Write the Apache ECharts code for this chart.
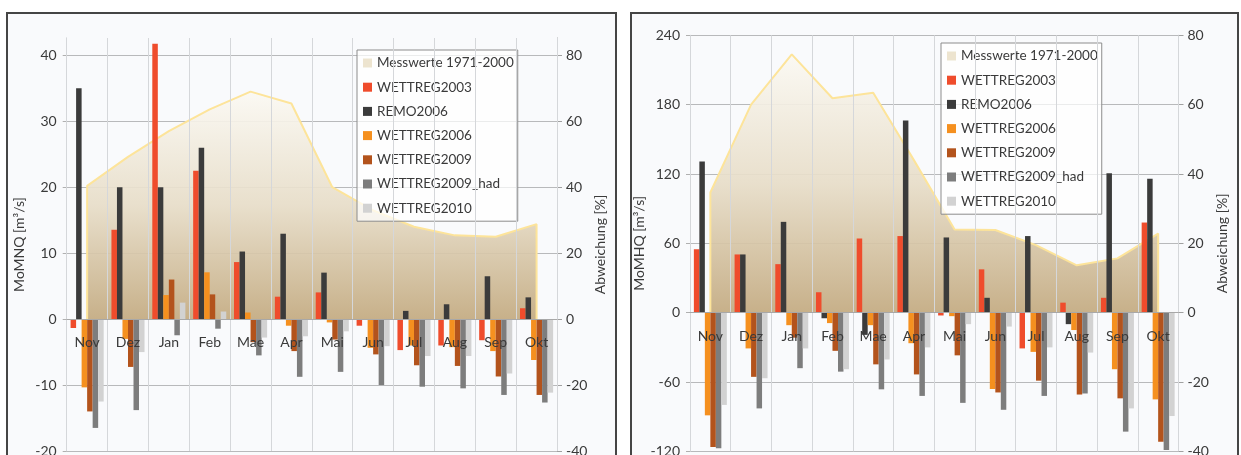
<!DOCTYPE html>
<html>
<head>
<meta charset="utf-8">
<script src="https://cdn.jsdelivr.net/npm/echarts@6/dist/echarts.min.js"></script>
<style>
  html, body { margin: 0; padding: 0; background: #ffffff; overflow: hidden; width: 1241px; height: 455px; }
  .frame { position: absolute; top: 12px; height: 520px; border: 2px solid #454545; background: #f9fafc; box-sizing: border-box; }
  #chart { position: absolute; left: 0; top: 0; width: 1241px; height: 455px; }
</style>
</head>
<body>
<div class="frame" style="left:6px;width:611px"></div>
<div class="frame" style="left:630px;width:609px"></div>
<div id="chart"></div>
<script>
// Monthly categories (hydrological year Nov..Okt)
const months = ['Nov', 'Dez', 'Jan', 'Feb', 'Mae', 'Apr', 'Mai', 'Jun', 'Jul', 'Aug', 'Sep', 'Okt'];

const seriesNames = ['Messwerte 1971-2000', 'WETTREG2003', 'REMO2006', 'WETTREG2006', 'WETTREG2009', 'WETTREG2009_had', 'WETTREG2010'];

// Panel 1: MoMNQ, observed mean [m³/s] and deviations [%]
const mnqMess     = [20.2, 24.6, 28.5, 31.8, 34.5, 32.7, 20.0, 16.5, 14.0, 12.7, 12.5, 14.4];
const mnqW2003    = [-2.7, 27.1, 83.5, 45.0, 17.3, 6.8, 8.1, -2.0, -9.4, -8.0, -6.4, 3.3];
const mnqRemo     = [70.0, 40.0, 40.0, 52.0, 20.5, 25.9, 14.1, 0.0, 2.5, 4.5, 13.0, 6.6];
const mnqW2006    = [-20.7, -6.0, 7.3, 14.2, 2.0, -2.0, -1.0, -8.7, -8.0, -8.5, -9.7, -12.4];
const mnqW2009    = [-28.0, -14.5, 12.0, 7.5, -7.0, -9.7, -6.2, -10.7, -14.0, -14.2, -17.4, -23.0];
const mnqW2009had = [-33.0, -27.6, -4.9, -2.9, -11.0, -17.5, -16.0, -20.0, -20.5, -21.0, -23.0, -25.3];
const mnqW2010    = [-25.0, -10.0, 5.0, 2.3, -5.6, -5.2, -3.7, -8.2, -11.2, -11.2, -16.5, -22.3];

// Panel 2: MoMHQ, observed mean [m³/s] and deviations [%]
const mhqMess     = [104, 180, 223.5, 185.5, 190.3, 132, 72, 71.5, 58.5, 41, 47, 68.5];
const mhqW2003    = [18.3, 16.8, 14.0, 5.9, 21.4, 22.1, -0.8, 12.5, -10.3, 2.9, 4.3, 26.0];
const mhqRemo     = [43.6, 16.8, 26.2, -1.6, -6.4, 55.4, 21.7, 4.3, 22.1, -3.3, 40.2, 38.6];
const mhqW2006    = [-29.6, -10.3, -3.6, -3.0, -3.6, -8.8, -1.0, -22.0, -11.3, -5.0, -16.3, -25.0];
const mhqW2009    = [-38.7, -18.5, -7.2, -11.0, -14.9, -17.8, -12.3, -23.0, -19.6, -23.6, -24.7, -37.2];
const mhqW2009had = [-39.1, -27.6, -16.0, -17.0, -22.1, -24.0, -26.0, -28.0, -24.0, -23.3, -34.3, -39.6];
const mhqW2010    = [-26.6, -18.9, -10.3, -16.3, -13.5, -10.0, -3.3, -4.0, -10.0, -11.5, -27.6, -29.8];

const barColors = ['#ef4c2c', '#3b3b3b', '#f5901f', '#b3531c', '#7d7d7d', '#d2d2d2'];
const areaIconColor = '#ede4cf';
const lineColor = '#fde49a';
const FONT = 'Lato';
const TXT = '#3a3a3a';

// Area outline including the vertical edges at the first and last month
function areaData(vals) {
  const pts = vals.map((v, i) => [i, v]);
  return [[0, 0]].concat(pts, [[vals.length - 1, 0]]);
}

function panel(gi, g, axes, mess, bars, legendPos) {
  // the month axis sits on the zero line of the value axes
  const zeroOffset = -g.height * (0 - axes.lMin) / (axes.lMax - axes.lMin);
  const xAxis = {
    type: 'category', gridIndex: gi, data: months, boundaryGap: true,
    position: 'bottom', offset: zeroOffset, z: 6,
    axisLine: { show: true, onZero: false, lineStyle: { color: '#a8a8a8', width: 1 } },
    axisTick: { show: false },
    axisLabel: { margin: g.labelMargin, color: TXT, fontFamily: FONT, fontSize: 14 },
    splitLine: { show: true, interval: 0, lineStyle: { color: '#d5d7da', width: 1 } }
  };
  const yLeft = {
    type: 'value', gridIndex: gi, position: 'left',
    min: axes.lMin, max: axes.lMax, interval: axes.lInt,
    name: axes.lName, nameLocation: 'middle', nameGap: axes.lGap, nameRotate: 90,
    nameTextStyle: { color: TXT, fontFamily: FONT, fontSize: 14 },
    axisLine: { show: true, lineStyle: { color: '#c4c6c9' } },
    axisTick: { show: true, length: 4, lineStyle: { color: '#b0b0b0' } },
    axisLabel: { margin: 10, color: TXT, fontFamily: FONT, fontSize: 14, showMaxLabel: axes.showMax },
    splitLine: { show: true, showMaxLine: axes.showMax, lineStyle: { color: '#b8b9bb', width: 1 } }
  };
  const yRight = {
    type: 'value', gridIndex: gi, position: 'right',
    min: axes.rMin, max: axes.rMax, interval: axes.rInt,
    name: 'Abweichung [%]', nameLocation: 'middle', nameGap: axes.rGap, nameRotate: 90,
    nameTextStyle: { color: TXT, fontFamily: FONT, fontSize: 14 },
    axisLine: { show: true, lineStyle: { color: '#a0a0a0' } },
    axisTick: { show: true, length: 5, lineStyle: { color: '#a0a0a0' } },
    axisLabel: { margin: 9, color: TXT, fontFamily: FONT, fontSize: 14, showMaxLabel: axes.showMax },
    splitLine: { show: false }
  };
  const series = [{
    name: seriesNames[0], type: 'line', xAxisIndex: gi, yAxisIndex: gi * 2,
    data: areaData(mess), symbol: 'none', z: 1,
    lineStyle: { color: lineColor, width: 2 },
    itemStyle: { color: areaIconColor },
    areaStyle: {
      opacity: 0.92,
      color: { type: 'linear', x: 0, y: 0, x2: 0, y2: 1, colorStops: [
        { offset: 0, color: '#fbf9f3' },
        { offset: 0.5, color: '#e7ddc8' },
        { offset: 1, color: '#c3aa80' }
      ] }
    }
  }];
  bars.forEach((vals, k) => {
    series.push({
      name: seriesNames[k + 1], type: 'bar', xAxisIndex: gi, yAxisIndex: gi * 2 + 1,
      data: vals, barGap: '0%', barCategoryGap: '19%', z: 3,
      itemStyle: { color: barColors[k] }
    });
  });
  const legend = {
    orient: 'vertical', left: legendPos.left, top: legendPos.top,
    padding: [5, 4, 5, 6], itemGap: 8.2, itemWidth: 9, itemHeight: 9, icon: 'rect',
    selectedMode: false,
    borderColor: '#8c8c8c', borderWidth: 1, backgroundColor: 'rgba(255,255,255,0.72)',
    textStyle: { color: TXT, fontFamily: FONT, fontSize: 13.5, lineHeight: 16 },
    data: seriesNames.map((n, i) => i === 0 ? { name: n, itemStyle: { color: areaIconColor } } : n)
  };
  return { grid: { left: g.left, top: g.top, width: g.width, height: g.height,
                   containLabel: false, outerBoundsMode: 'none' },
           xAxis, yAxes: [yLeft, yRight], series, legend };
}

const p1 = panel(0,
  { left: 66.7, top: 38, width: 490.3, height: 413, labelMargin: 16 },
  { lMin: -20, lMax: 42.63, lInt: 10, rMin: -40, rMax: 85.26, rInt: 20, lName: 'MoMNQ [m³/s]', lGap: 40, rGap: 36, showMax: false },
  mnqMess, [mnqW2003, mnqRemo, mnqW2006, mnqW2009, mnqW2009had, mnqW2010],
  { left: 357, top: 50 });

const p2 = panel(1,
  { left: 690, top: 35.3, width: 488.5, height: 416.1, labelMargin: 17 },
  { lMin: -120, lMax: 240, lInt: 60, rMin: -40, rMax: 80, rInt: 20, lName: 'MoMHQ [m³/s]', lGap: 42, rGap: 37, showMax: true },
  mhqMess, [mhqW2003, mhqRemo, mhqW2006, mhqW2009, mhqW2009had, mhqW2010],
  { left: 941, top: 43 });

const chart = echarts.init(document.getElementById('chart'), null, { renderer: 'canvas' });
chart.setOption({
  animation: false,
  backgroundColor: 'transparent',
  textStyle: { fontFamily: FONT },
  grid: [p1.grid, p2.grid],
  xAxis: [p1.xAxis, p2.xAxis],
  yAxis: [...p1.yAxes, ...p2.yAxes],
  legend: [p1.legend, p2.legend],
  series: [...p1.series, ...p2.series]
});
</script>
</body>
</html>
